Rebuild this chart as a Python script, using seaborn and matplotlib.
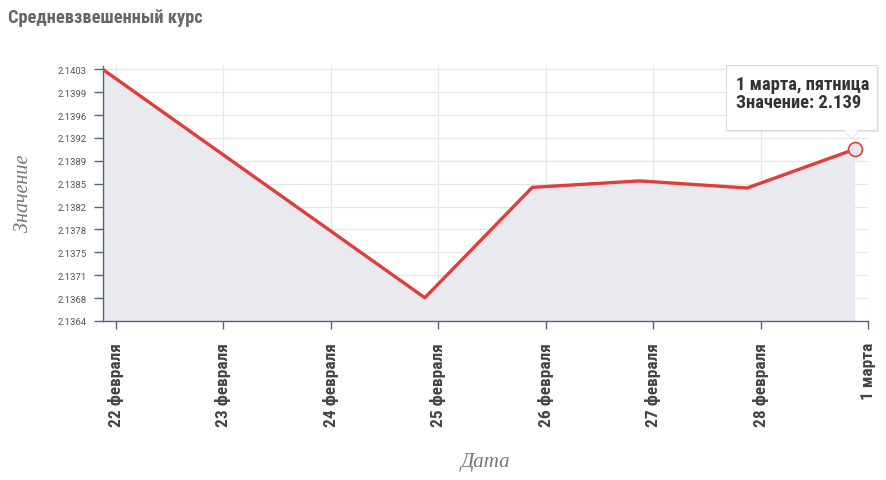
import numpy as np
import pandas as pd
import matplotlib
matplotlib.use("Agg")
import matplotlib.pyplot as plt
import seaborn as sns
from matplotlib import font_manager
from matplotlib.patches import Rectangle, Polygon

# ---------------- data ----------------
date_labels = ["22 февраля", "23 февраля", "24 февраля", "25 февраля",
               "26 февраля", "27 февраля", "28 февраля", "1 марта"]
values = [2.1403, 2.13912, 2.13794, 2.13676, 2.13847, 2.13857, 2.13846, 2.13906]
y_min, y_max = 2.1364, 2.1403
title = "Средневзвешенный курс"
ylabel = "Значение"
xlabel = "Дата"
tooltip_lines = ["1 марта, пятница", "Значение: 2.139"]

# ---------------- fonts ----------------
names = {f.name for f in font_manager.fontManager.ttflist}
cond = next((n for n in ["Roboto Condensed", "Liberation Sans Narrow", "Roboto"] if n in names), "DejaVu Sans")
serif = next((n for n in ["Liberation Serif", "DejaVu Serif"] if n in names), "serif")

W, H = 886, 481
sns.set_theme(style="white")
plt.rcParams["font.family"] = [cond, "DejaVu Sans"]

fig = plt.figure(figsize=(W / 100, H / 100), dpi=100)
ax_left, ax_right, ax_top, ax_bot = 103, 868, 67, 322
ax = fig.add_axes([ax_left / W, 1 - ax_bot / H, (ax_right - ax_left) / W, (ax_bot - ax_top) / H])

offset = 0.125  # data timestamps sit a few hours before the day ticks
df = pd.DataFrame({"pos": np.arange(len(values)) - offset, "value": values})

line_color = "#df3f3a"
ax.fill_between(df["pos"], df["value"], y_min, color="#e9eaef", zorder=1, lw=0)
sns.lineplot(data=df, x="pos", y="value", ax=ax, color=line_color, lw=2.4, zorder=3)
ax.plot(df["pos"].iloc[-1], df["value"].iloc[-1], marker="o", ms=10, mfc="#e6e7ec",
        mec=line_color, mew=1.2, zorder=4)

ax.set_xlim(-offset + 0.004, 7.0)
ax.set_ylim(y_min, y_max + 0.00005)

yticks = np.linspace(y_min, y_max, 12)
ax.set_yticks(yticks)
ax.set_yticklabels([f"{v:.4f}" for v in yticks], fontsize=6.8, color="#555555",
                   family=["Roboto", "DejaVu Sans"])
ax.set_xticks(np.arange(len(date_labels)))
ax.set_xticklabels(date_labels, rotation=90, fontsize=12.5, fontweight="bold",
                   color="#444444", va="top", ha="center")

axis_col = "#58618a"
ax.grid(True, color="#e6e6e6", lw=0.9, zorder=0)
ax.set_axisbelow(True)
for s in ["top", "right"]:
    ax.spines[s].set_visible(False)
for s in ["left", "bottom"]:
    ax.spines[s].set_color(axis_col)
    ax.spines[s].set_linewidth(1.0)
ax.tick_params(axis="y", direction="out", length=6.5, width=1, color=axis_col, pad=5, left=True)
ax.tick_params(axis="x", direction="out", length=6, width=1, color=axis_col, pad=9, bottom=True)
ax.set_xlabel("")
ax.set_ylabel("")

# ---------------- texts ----------------
def fx(x):
    return x / W

def fy(y):
    return 1 - y / H

fig.text(fx(8), fy(18), title, fontsize=13.2, fontweight="bold", color="#666666",
         va="center", ha="left")
fig.text(fx(24), fy(193), ylabel, fontsize=14.5, style="italic", color="#777777",
         family=serif, rotation=90, va="center", ha="center")
fig.text(fx(485), fy(462), xlabel, fontsize=15, style="italic", color="#777777",
         family=serif, va="center", ha="center")

# tooltip
bx0, by0, bx1, by1 = 726, 66, 877, 131
fig.patches.append(Rectangle((fx(bx0 + 2), fy(by1 + 2)), (bx1 - bx0) / W, (by1 - by0) / H,
                             transform=fig.transFigure, fc="#000000", alpha=0.08, ec="none", zorder=9))
fig.patches.append(Rectangle((fx(bx0), fy(by1)), (bx1 - bx0) / W, (by1 - by0) / H,
                             transform=fig.transFigure, fc="white", ec="#d9d9d9", lw=0.8, zorder=10))
fig.patches.append(Polygon([(fx(843), fy(130.5)), (fx(859), fy(130.5)), (fx(852), fy(139))],
                           closed=True, transform=fig.transFigure, fc="white", ec="none", zorder=11))
fig.lines.append(plt.Line2D([fx(843), fx(852), fx(859)], [fy(131), fy(139), fy(131)],
                            transform=fig.transFigure, color="#d9d9d9", lw=0.8, zorder=11))
fig.text(fx(736), fy(85), tooltip_lines[0], fontsize=13.3, fontweight="bold", color="#333333",
         va="center", ha="left", zorder=12)
fig.text(fx(736), fy(103), tooltip_lines[1], fontsize=13.3, fontweight="bold", color="#333333",
         va="center", ha="left", zorder=12)

fig.savefig("out.png", dpi=100)
